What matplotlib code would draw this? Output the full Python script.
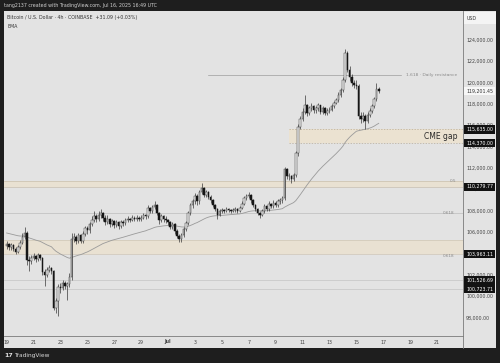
import matplotlib
matplotlib.use("Agg")
import matplotlib.pyplot as plt
from matplotlib.patches import Rectangle
from matplotlib.transforms import blended_transform_factory
import numpy as np

# ---------------- data (BTC/USD 4h, values in thousands USD) ----------------
first_open = 104.7
closes = [104.9, 104.6, 104.8, 104.5, 104.2, 104.6,
          105.0, 105.6, 106.0, 103.4, 103.3, 103.6,
          103.8, 103.5, 103.9, 103.6, 102.3, 102.0,
          102.5, 102.7, 102.4, 98.9, 99.6, 100.9,
          100.8, 101.3, 101.0, 101.2, 101.8, 105.4,
          105.6, 105.2, 105.8, 105.2, 105.9, 106.4,
          106.2, 106.8, 107.2, 107.5, 107.3, 107.6,
          107.8, 107.4, 107.0, 107.3, 106.8, 107.1,
          106.7, 107.0, 106.6, 107.0, 106.9, 107.2,
          107.3, 107.2, 107.4, 107.3, 107.4, 107.3,
          107.4, 107.6, 107.5, 108.3, 108.0, 108.4,
          108.6, 107.8, 107.2, 107.5, 107.3, 107.2,
          107.0, 106.5, 106.8, 106.1, 105.7, 105.4,
          105.8, 106.3, 106.9, 107.8, 108.6, 108.9,
          109.4, 108.9, 109.8, 110.2, 109.5, 109.8,
          109.3, 109.0, 108.6, 108.2, 107.6, 108.0,
          108.1, 108.0, 108.2, 108.1, 108.0, 108.1,
          108.2, 108.0, 108.3, 108.7, 109.2, 109.4,
          109.5, 109.0, 108.6, 108.2, 107.8, 107.6,
          108.0, 108.5, 108.2, 108.7, 108.5, 108.8,
          108.6, 108.9, 109.0, 109.2, 111.9, 111.3,
          111.3, 111.0, 111.4, 113.4, 115.9, 116.6,
          117.3, 117.9, 117.2, 117.6, 117.8, 117.5,
          117.6, 117.9, 117.3, 117.6, 117.2, 117.4,
          117.5, 117.8, 118.1, 118.4, 118.9, 119.3,
          120.3, 122.8, 121.2, 120.5, 120.0, 119.8,
          119.7, 116.9, 116.6, 116.9, 116.4, 117.0,
          117.4, 117.8, 118.5, 119.4, 119.2]
highs = [105.2, 105.0, 105.0, 104.9, 104.6, 104.8,
         105.3, 106.0, 106.5, 106.1, 103.8, 103.9,
         104.1, 103.9, 104.1, 104.0, 103.7, 102.6,
         102.8, 103.0, 102.8, 102.5, 99.9, 101.2,
         101.3, 101.6, 101.5, 101.4, 102.2, 106.0,
         106.0, 105.8, 106.0, 105.9, 106.1, 106.6,
         106.6, 107.0, 107.5, 108.0, 107.7, 108.0,
         108.2, 107.9, 107.6, 107.6, 107.4, 107.3,
         107.2, 107.2, 107.1, 107.2, 107.2, 107.4,
         107.5, 107.4, 107.6, 107.5, 107.6, 107.5,
         107.6, 107.8, 107.7, 108.6, 108.4, 108.6,
         108.9, 108.7, 107.9, 107.7, 107.6, 107.5,
         107.3, 107.1, 107.0, 106.9, 106.3, 105.9,
         106.0, 106.5, 107.1, 108.0, 108.8, 109.1,
         109.7, 109.6, 110.0, 110.6, 110.3, 110.0,
         109.9, 109.5, 109.1, 108.7, 108.3, 108.2,
         108.3, 108.2, 108.4, 108.3, 108.2, 108.3,
         108.4, 108.3, 108.5, 108.9, 109.4, 109.6,
         109.8, 109.6, 109.1, 108.7, 108.3, 107.9,
         108.2, 108.7, 108.6, 108.9, 108.8, 109.0,
         108.9, 109.1, 109.2, 109.4, 112.1, 112.0,
         111.6, 111.4, 111.6, 113.6, 116.1, 116.9,
         117.6, 118.9, 118.0, 117.8, 118.1, 117.9,
         117.8, 118.1, 117.9, 117.8, 117.7, 117.6,
         117.7, 118.0, 118.3, 118.6, 119.1, 119.5,
         120.5, 123.2, 123.0, 121.6, 120.8, 120.3,
         120.3, 119.9, 117.3, 117.3, 117.1, 117.3,
         117.6, 118.0, 118.7, 120.0, 119.6]
lows = [104.5, 104.4, 104.4, 104.3, 104.0, 104.1,
        104.5, 104.9, 105.4, 103.0, 102.4, 103.1,
        103.4, 103.2, 103.3, 103.4, 102.0, 101.0,
        101.8, 102.3, 102.1, 98.8, 98.5, 98.2,
        100.3, 100.6, 100.7, 99.7, 100.9, 101.6,
        105.1, 104.9, 105.0, 105.0, 105.0, 105.7,
        105.9, 106.0, 106.6, 107.0, 107.0, 107.1,
        107.4, 107.1, 106.7, 106.8, 106.5, 106.6,
        106.4, 106.5, 106.3, 106.4, 106.6, 106.7,
        107.0, 107.0, 107.1, 107.1, 107.1, 107.1,
        107.1, 107.3, 107.3, 107.4, 107.8, 107.8,
        108.2, 107.6, 106.8, 107.0, 107.0, 106.9,
        106.7, 106.3, 106.3, 105.9, 105.5, 105.1,
        105.1, 105.6, 106.1, 106.7, 107.6, 108.3,
        108.7, 108.6, 108.7, 109.6, 109.3, 109.3,
        109.1, 108.8, 108.4, 108.0, 107.3, 107.5,
        107.8, 107.8, 107.9, 107.9, 107.8, 107.9,
        107.9, 107.8, 107.9, 108.2, 108.6, 109.0,
        109.2, 108.8, 108.4, 108.0, 107.6, 107.4,
        107.5, 107.8, 108.0, 108.0, 108.3, 108.3,
        108.4, 108.4, 108.7, 108.8, 109.0, 111.0,
        110.9, 110.6, 110.8, 111.2, 113.2, 115.7,
        116.4, 117.1, 116.9, 117.0, 117.4, 117.2,
        117.2, 117.4, 117.1, 117.1, 117.0, 117.0,
        117.2, 117.4, 117.6, 118.0, 118.2, 118.7,
        119.1, 120.1, 121.0, 120.2, 119.7, 119.5,
        119.4, 116.6, 116.2, 116.3, 115.7, 116.2,
        116.8, 117.2, 117.6, 118.3, 119.0]

ema_seed = 106.0
ema_span = 50

price_ticks = [124000, 122000, 120000, 118000, 116000, 114000, 112000,
               110000, 108000, 106000, 104000, 102000, 100000, 98000]
marked_prices = [115635.00, 114370.00, 110279.77, 103963.11, 101526.69, 100723.71]
last_price = 119201.45

time_labels = ["19", "21", "23", "25", "27", "29", "Jul", "3", "5", "7",
               "9", "11", "13", "15", "17", "19", "21"]
time_label_days = [0, 2, 4, 6, 8, 10, 12, 14, 16, 18, 20, 22, 24, 26, 28, 30, 32]

resistance_level = 120730
cme_gap = (114370.00, 115635.00)
fib_band_05 = (110279.77, 110850)
fib_line_0618 = 107800
fib_band_low = (103963.11, 105300)
support_lines = [101526.69, 100723.71]

# ---------------- figure ----------------
W, H = 500, 363
fig = plt.figure(figsize=(W / 100, H / 100), dpi=100)
fig.patch.set_facecolor("#1e1e1e")

def fx(px):
    return px / W

def fy(py):
    return 1 - py / H

bg = "#e3e3e3"
fig.patches.append(Rectangle((fx(4), fy(348)), fx(496) - fx(4), fy(11) - fy(348),
                             transform=fig.transFigure, facecolor=bg, edgecolor="none", zorder=-5))

ax = fig.add_axes([fx(4), fy(336), fx(463) - fx(4), fy(11) - fy(336)])
ax.set_zorder(2)
ax.set_facecolor(bg)
for s in ax.spines.values():
    s.set_visible(False)
ax.set_xticks([])
ax.set_yticks([])

n = len(closes)
idx = np.arange(n)
c = np.array(closes) * 1000
h = np.array(highs) * 1000
l = np.array(lows) * 1000
o = np.concatenate([[first_open * 1000], c[:-1]])

# px scale: candle i at x = 6.6 + 2.2417 i
x0, xs = 6.6, 2.2417
ax.set_xlim((4 - x0) / xs, (463 - x0) / xs)
ypp = 93.5  # price per pixel
ax.set_ylim(124000 - (336 - 40) * ypp, 124000 + (40 - 11) * ypp)

# horizontal levels
ax.plot([(208 - x0) / xs, (401 - x0) / xs], [resistance_level] * 2, color="#9e9e9e", lw=0.5, zorder=1)
ax.axhspan(fib_band_05[0], fib_band_05[1], color="#e9e1d2", zorder=0.5, lw=0)
for v in fib_band_05:
    ax.axhline(v, color="#c9bfae", lw=0.5, zorder=0.6)
ax.axhline(fib_line_0618, color="#bdbdbd", lw=0.5, zorder=0.6)
ax.axhspan(fib_band_low[0], fib_band_low[1], color="#e9e1d2", zorder=0.5, lw=0)
for v in fib_band_low:
    ax.axhline(v, color="#cfc6b6", lw=0.5, zorder=0.6)
for v in support_lines:
    ax.axhline(v, color="#c4c4c4", lw=0.5, zorder=0.6)

# CME gap box
gx0 = (289 - x0) / xs
gx1 = (463 - x0) / xs
ax.add_patch(Rectangle((gx0, cme_gap[0]), gx1 - gx0, cme_gap[1] - cme_gap[0],
                       facecolor="#ebe2d1", edgecolor="none", zorder=0.7))
for v in cme_gap:
    ax.plot([gx0, gx1], [v, v], color="#b7ab97", lw=0.5, ls=(0, (2, 2)), zorder=0.8)

# EMA computed from closes
ema = []
prev = ema_seed * 1000
alpha = 2 / (ema_span + 1)
for v in c:
    prev = prev + alpha * (v - prev)
    ema.append(prev)
ax.plot(idx, ema, color="#9a9a9a", lw=0.6, zorder=1.5)

# candles
up = c >= o
ax.vlines(idx, l, h, color="#3a3a3a", lw=0.5, zorder=2)
body_w = 0.7
ax.bar(idx[up], np.maximum(c[up] - o[up], 20), bottom=o[up], width=body_w,
       color="#f0f0f0", edgecolor="#3a3a3a", linewidth=0.35, zorder=3)
ax.bar(idx[~up], np.maximum(o[~up] - c[~up], 20), bottom=c[~up], width=body_w,
       color="#161616", edgecolor="#161616", linewidth=0.35, zorder=3)

# level texts
ax.text((406 - x0) / xs, resistance_level, "1.618 · Daily resistance", fontsize=3.2,
        color="#8a8a8a", va="center", ha="left")
ax.text((458 - x0) / xs, (cme_gap[0] + cme_gap[1]) / 2, "CME gap", fontsize=5.5,
        color="#2a2a2a", va="center", ha="right", zorder=4)
ax.text((456 - x0) / xs, fib_band_05[1] - 60, "0.5", fontsize=3, color="#8a8a8a",
        va="center", ha="right")
ax.text((454 - x0) / xs, fib_line_0618, "0.618", fontsize=3, color="#8a8a8a",
        va="center", ha="right")
ax.text((454 - x0) / xs, fib_band_low[0] - 160, "0.618", fontsize=3, color="#8a8a8a",
        va="center", ha="right")

# ---------------- price axis ----------------
fig.lines.append(plt.Line2D([fx(463), fx(463)], [fy(11), fy(348)], transform=fig.transFigure,
                            color="#7a7a7a", lw=0.6, zorder=3))
fig.lines.append(plt.Line2D([fx(4), fx(463)], [fy(336), fy(336)], transform=fig.transFigure,
                            color="#7a7a7a", lw=0.6, zorder=3))
fig.patches.append(Rectangle((fx(463.5), fy(24)), fx(496) - fx(463.5), fy(12) - fy(24),
                             transform=fig.transFigure, facecolor="#f4f4f4", edgecolor="none", zorder=-4))
fig.text(fx(467), fy(18), "USD", fontsize=3.4, color="#333333", va="center", ha="left")

ptr = blended_transform_factory(fig.transFigure, ax.transData)
for p in price_ticks:
    ax.text(fx(466), p, f"{p:,.2f}", transform=ptr, fontsize=3.4, color="#444444",
            va="center", ha="left", clip_on=False, zorder=5)
for p in marked_prices:
    ax.text(fx(466), p, f"{p:,.2f}", transform=ptr, fontsize=3.4, color="#ffffff",
            va="center", ha="left", clip_on=False, zorder=7,
            bbox=dict(boxstyle="square,pad=0.35", fc="#121212", ec="none"))
ax.text(fx(466), last_price, f"{last_price:,.2f}", transform=ptr, fontsize=3.4, color="#333333",
        va="center", ha="left", clip_on=False, zorder=7,
        bbox=dict(boxstyle="square,pad=0.35", fc="#f7f7f7", ec="none"))

# ---------------- time axis ----------------
ttr = blended_transform_factory(ax.transData, fig.transFigure)
for lab, d in zip(time_labels, time_label_days):
    ax.text(d * 6, fy(342), lab, transform=ttr, fontsize=3.4, color="#444444",
            va="center", ha="center", clip_on=False,
            fontweight="bold" if lab == "Jul" else "normal")

# ---------------- header / footer ----------------
fig.text(fx(4), fy(5.5), "tang2137 created with TradingView.com, Jul 16, 2025 16:49 UTC",
         fontsize=3.4, color="#d0d0d0", va="center", ha="left")
fig.text(fx(7), fy(18), "Bitcoin / U.S. Dollar · 4h · COINBASE  +31.09 (+0.03%)",
         fontsize=3.4, color="#333333", va="center", ha="left", zorder=10)
fig.text(fx(7), fy(26), "EMA", fontsize=3.4, color="#333333", va="center", ha="left", zorder=10)
fig.text(fx(4), fy(355.5), "17", fontsize=4.5, color="#e0e0e0", va="center", ha="left",
         fontweight="bold")
fig.text(fx(14), fy(355.5), "TradingView", fontsize=4.2, color="#d8d8d8", va="center", ha="left")

fig.savefig("out.png", dpi=100, facecolor=fig.get_facecolor())
